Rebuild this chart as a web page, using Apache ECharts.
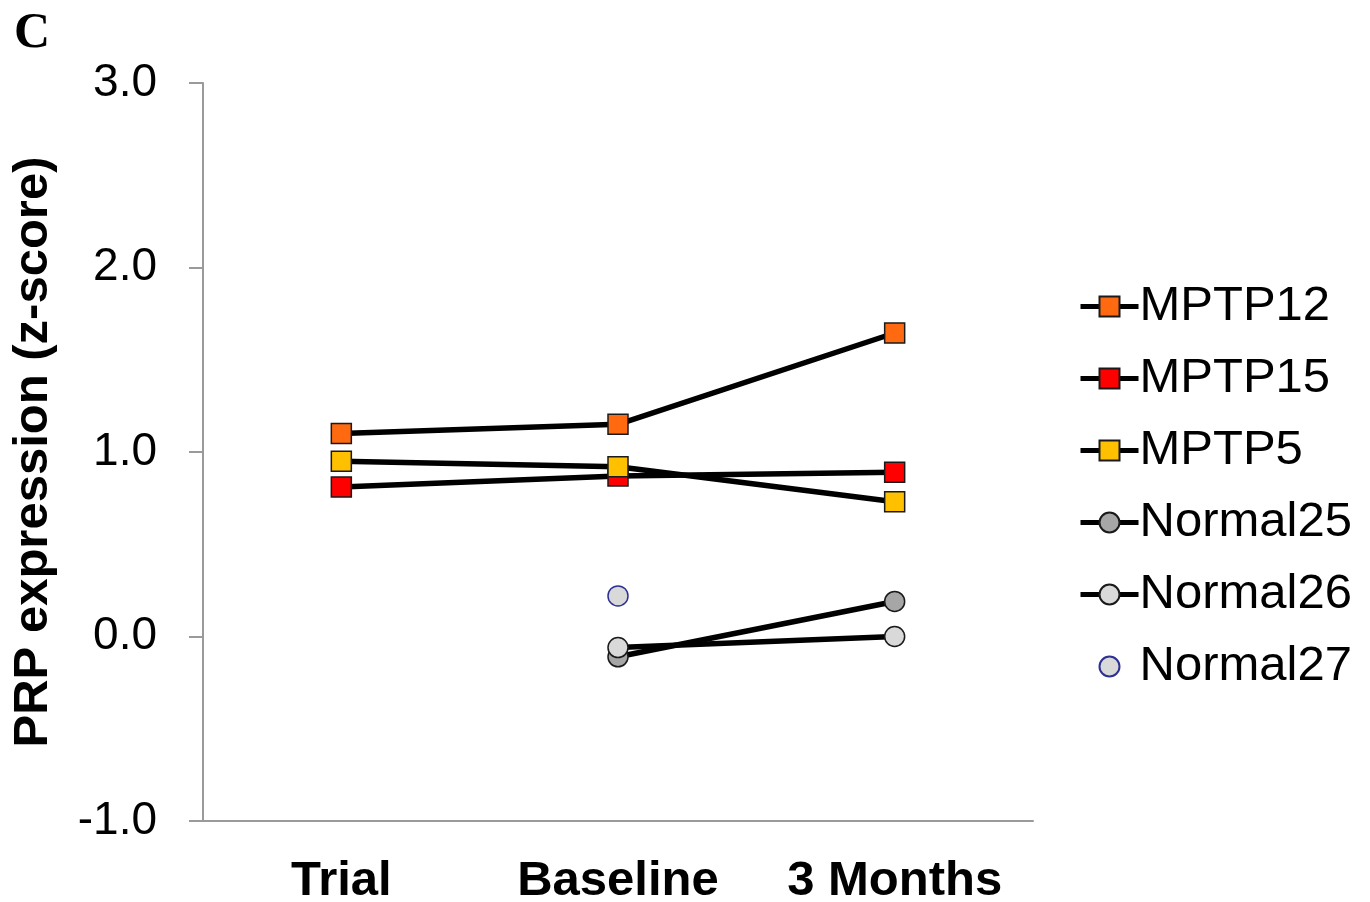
<!DOCTYPE html>
<html>
<head>
<meta charset="utf-8">
<script src="https://cdn.jsdelivr.net/npm/echarts@6/dist/echarts.min.js"></script>
<style>
  html, body { margin: 0; padding: 0; background: #fff; }
  #chart { width: 1370px; height: 902px; }
</style>
</head>
<body>
<div id="chart"></div>
<script>
// Time points and tick labels
const categories = ['Trial', 'Baseline', '3 Months'];
const yTicks = [-1, 0, 1, 2, 3];

// PRP expression z-scores per animal (null = not measured)
const mptp12 = [1.10, 1.15, 1.645];
const mptp15 = [0.81, 0.87, 0.89];
const mptp5 = [0.95, 0.92, 0.73];
const normal25 = [null, -0.11, 0.19];
const normal26 = [null, -0.06, 0.00];
const normal27 = [null, 0.22, null];

const seriesNames = ['MPTP12', 'MPTP15', 'MPTP5', 'Normal25', 'Normal26', 'Normal27'];

const font = '"Liberation Sans", Arial, sans-serif';

function lineSeries(name, data, symbol, fill, border, lineWidth) {
  return {
    name: name,
    type: 'line',
    data: data,
    symbol: symbol,
    symbolSize: 20,
    showSymbol: true,
    connectNulls: false,
    lineStyle: { color: '#000', width: lineWidth },
    itemStyle: { color: fill, borderColor: border, borderWidth: 1.5 },
    emphasis: { disabled: true },
    animation: false
  };
}

const chart = echarts.init(document.getElementById('chart'), null, { renderer: 'canvas' });
chart.setOption({
  backgroundColor: '#fff',
  animation: false,
  title: {
    text: 'C',
    left: 9,
    top: 4,
    textStyle: { fontFamily: '"Liberation Serif", "Times New Roman", serif', fontWeight: 'bold', fontSize: 50, color: '#000' }
  },
  grid: { left: 203, right: 337, top: 83, bottom: 81, containLabel: false, outerBoundsMode: 'none' },
  xAxis: {
    type: 'category',
    data: categories,
    boundaryGap: true,
    axisLine: { onZero: false, lineStyle: { color: '#9a9a9a', width: 2 } },
    axisTick: { show: false },
    axisLabel: { interval: 0, fontFamily: font, fontWeight: 'bold', fontSize: 49, color: '#000', margin: 36 },
    splitLine: { show: false }
  },
  yAxis: {
    type: 'value',
    min: yTicks[0],
    max: yTicks[yTicks.length - 1],
    interval: 1,
    axisLine: { show: true, lineStyle: { color: '#9a9a9a', width: 2 } },
    axisTick: { show: true, length: 14, lineStyle: { color: '#9a9a9a', width: 2 } },
    axisLabel: {
      fontFamily: font, fontSize: 46, color: '#000', margin: 46,
      formatter: v => v.toFixed(1)
    },
    splitLine: { show: false },
    name: 'PRP expression (z-score)',
    nameLocation: 'middle',
    nameGap: 145,
    nameTextStyle: { fontFamily: font, fontWeight: 'bold', fontSize: 49, color: '#000' }
  },
  legend: {
    orient: 'vertical',
    left: 1073,
    top: 277,
    itemWidth: 58,
    itemHeight: 25,
    itemGap: 23,
    lineStyle: { width: 5, color: '#000' },
    textStyle: { fontFamily: font, fontSize: 49, color: '#000', padding: [0, 0, 0, -4] },
    data: seriesNames.map(n => n === 'Normal27'
      ? { name: n, lineStyle: { width: 0, opacity: 0 } }
      : { name: n })
  },
  series: [
    lineSeries(seriesNames[0], mptp12, 'rect', '#FF6A10', '#1a1a1a', 5.5),
    lineSeries(seriesNames[1], mptp15, 'rect', '#FF0000', '#1a1a1a', 5.5),
    lineSeries(seriesNames[2], mptp5, 'rect', '#FFC000', '#1a1a1a', 5.5),
    lineSeries(seriesNames[3], normal25, 'circle', '#A6A6A6', '#1a1a1a', 5.5),
    lineSeries(seriesNames[4], normal26, 'circle', '#D9D9D9', '#1a1a1a', 5.5),
    lineSeries(seriesNames[5], normal27, 'circle', '#D9D9D9', '#2E3192', 0)
  ]
});
</script>
</body>
</html>
